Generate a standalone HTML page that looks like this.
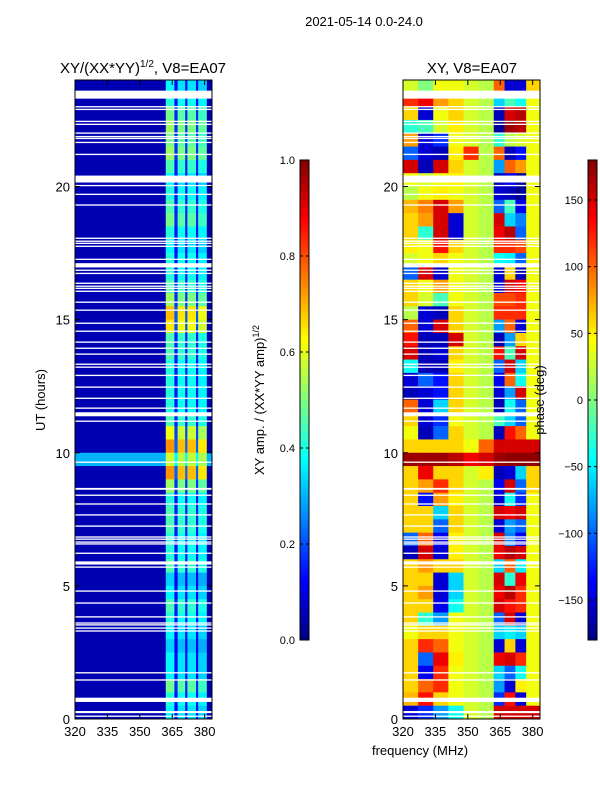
<!DOCTYPE html>
<html><head><meta charset="utf-8">
<style>
body{margin:0;background:#fff;}
svg{display:block;font-family:"Liberation Sans","DejaVu Sans",sans-serif;}
</style></head>
<body>
<svg id="fig" width="600" height="800" viewBox="0 0 600 800" xmlns="http://www.w3.org/2000/svg">
<rect width="600" height="800" fill="#fff"/>
<text x="364" y="26" font-size="13" text-anchor="middle">2021-05-14 0.0-24.0</text>
<text x="143" y="73" font-size="15" text-anchor="middle">XY/(XX*YY)<tspan font-size="10" dy="-6">1/2</tspan><tspan dy="6">, V8=EA07</tspan></text>
<text x="472" y="73" font-size="15" text-anchor="middle">XY, V8=EA07</text>
<text transform="translate(45,400) rotate(-90)" font-size="13" text-anchor="middle">UT (hours)</text>
<text x="420" y="755" font-size="13" text-anchor="middle">frequency (MHz)</text>
<text transform="translate(264,400) rotate(-90)" font-size="13" text-anchor="middle">XY amp. / (XX*YY amp)<tspan font-size="9" dy="-5">1/2</tspan></text>
<g id="leftPlot"></g>
<g id="rightPlot"></g>
<g id="cb1"></g>
<g id="cb2"></g>
<text transform="translate(544,400) rotate(-90)" font-size="13" text-anchor="middle">phase (deg)</text>
</svg>
<script>
// ---- data ----
const hourTicks = [0, 5, 10, 15, 20];
const freqTicks = [320, 335, 350, 365, 380];
const ampTicks = [0.0, 0.2, 0.4, 0.6, 0.8, 1.0];
const phaseTicks = [-150, -100, -50, 0, 50, 100, 150];
const ampBins = [320, 362, 366, 367.5, 371, 372, 376, 377, 381, 383.4];
const ampBinWeight = [0, 0.8, 0.2, 0.75, 0.2, 0.75, 0.2, 0.7, 0];
const ampPeak = [0.4,0.45,0.55,0.6,0.55,0.6,0.5,0.4,0.45,0.5,0.55,0.45,0.4,0.45,0.45,0.5,0.6,0.8,0.75,0.5,0.5,0.45,0.45,0.45,0.45,0.5,0.7,0.85,0.35,0.85,0.6,0.45,0.5,0.5,0.45,0.45,0.5,0.35,0.4,0.5,0.45,0.4,0.35,0.4,0.4,0.55,0.45,0.4];
const ampBase = [0.05,0.05,0.05,0.05,0.05,0.05,0.05,0.05,0.05,0.05,0.05,0.05,0.05,0.05,0.05,0.05,0.05,0.05,0.05,0.05,0.05,0.05,0.05,0.05,0.05,0.05,0.05,0.05,0.3,0.05,0.05,0.05,0.05,0.05,0.05,0.05,0.05,0.05,0.05,0.05,0.05,0.05,0.05,0.05,0.05,0.05,0.05,0.05];
const phaseBins = [320, 327, 334, 341, 348, 355, 362, 367, 372, 377, 383.4];
const phaseRows = [
[30,0,40,40,30,20,100,-150,-150,60],[120,140,80,60,30,20,-60,-20,-40,40],
[60,-150,40,60,30,20,-160,150,160,40],[-30,-20,30,50,30,20,-170,170,160,40],
[80,-150,-120,40,30,20,-30,20,30,40],[-100,-150,-160,50,120,20,100,-160,-130,40],
[150,-160,150,60,30,20,-80,100,80,40],[40,30,40,50,30,20,-160,-140,-170,40],
[20,40,50,40,30,20,-150,-160,-170,40],[70,90,150,80,30,20,-100,-20,-140,40],
[60,80,150,-150,30,20,150,-60,-90,40],[60,-30,150,-150,30,20,140,160,-100,40],
[50,40,130,60,30,20,120,120,110,40],[30,40,60,40,30,20,-40,-50,-100,40],
[-100,150,-150,40,30,20,-150,60,-160,40],[60,40,80,40,30,20,-150,150,140,40],
[60,30,-20,40,30,20,110,110,120,40],[20,-150,-160,60,30,20,120,120,120,40],
[100,-150,150,60,30,20,-80,100,-150,40],[130,-160,-160,150,30,20,-160,-80,60,40],
[150,-160,-150,60,30,20,130,-20,150,40],[-40,-160,-160,50,30,20,-100,150,-60,40],
[-150,-100,-130,60,30,20,-140,100,-40,40],[-160,-150,-130,60,30,20,-150,-80,150,40],
[100,-150,-60,60,30,20,-160,-40,-100,40],[60,-150,-120,40,30,20,-20,-60,-100,40],
[40,-160,-100,60,30,20,-160,130,100,40],[60,60,60,60,40,100,150,150,150,150],
[170,170,170,160,140,150,170,175,175,175],[60,140,60,60,30,50,-160,-150,-60,60],
[60,80,120,60,30,20,-140,150,-100,60],[60,-130,80,50,30,20,-150,-40,-120,40],
[60,60,-60,60,30,20,150,140,150,40],[60,60,-100,60,30,20,-150,-80,-100,40],
[-100,100,-140,50,30,20,150,-90,-140,40],[-160,150,-150,50,30,20,140,160,150,40],
[60,80,60,60,30,20,-60,100,-50,40],[60,60,-150,-60,30,20,150,-30,140,40],
[60,80,-150,-60,30,20,140,160,120,40],[60,60,-140,-40,30,20,150,130,120,40],
[60,-30,-80,40,30,20,-100,150,-150,40],[40,60,60,40,30,20,-60,-50,-60,40],
[60,120,100,40,30,20,-150,60,-150,40],[60,-100,140,50,30,20,140,150,120,40],
[60,-140,120,40,30,20,-60,-100,-40,40],[60,100,120,40,30,20,-80,-150,50,40],
[70,130,60,40,30,20,-120,130,-150,40],[-150,-120,-80,-40,30,20,150,150,150,150]
];
const gapStart = [23.3,22.97,22.87,22.42,22.31,21.98,21.85,21.78,21.63,21.18,20.15,20.01,19.68,19.28,18.03,17.92,17.84,17.73,17.24,16.96,16.83,16.71,16.34,16.23,16.15,16.04,15.63,15.33,14.84,14.54,14.13,13.9,13.68,13.3,13.19,12.88,12.44,12.02,11.65,11.37,11.16,9.62,8.61,8.38,8.05,7.64,7.22,6.81,6.73,6.62,6.55,6.2,5.8,5.68,4.78,4.33,3.81,3.58,3.51,3.39,3.28,1.71,1.44,0.64,0.22,0.08];
const gapEnd   = [23.6,23.02,22.92,22.47,22.36,22.03,21.9,21.83,21.68,21.23,20.41,20.06,19.73,19.33,18.08,17.97,17.89,17.78,17.29,17.12,16.88,16.76,16.39,16.28,16.2,16.09,15.68,15.38,14.89,14.59,14.18,13.95,13.73,13.35,13.24,12.93,12.49,12.07,11.7,11.52,11.21,9.67,8.68,8.43,8.1,7.69,7.27,6.86,6.78,6.67,6.6,6.25,5.92,5.73,4.83,4.38,3.86,3.63,3.56,3.44,3.33,1.76,1.49,0.8,0.3,0.13];

const NS = "http://www.w3.org/2000/svg";
function jet(v){
  v = Math.max(0, Math.min(1, v));
  const r = Math.max(0, Math.min(1, 1.5 - Math.abs(4*v - 3)));
  const g = Math.max(0, Math.min(1, 1.5 - Math.abs(4*v - 2)));
  const b = Math.max(0, Math.min(1, 1.5 - Math.abs(4*v - 1)));
  return `rgb(${Math.round(r*255)},${Math.round(g*255)},${Math.round(b*255)})`;
}
function mk(tag, attrs, parent){
  const e = document.createElementNS(NS, tag);
  for (const k in attrs) e.setAttribute(k, attrs[k]);
  parent.appendChild(e);
  return e;
}
const PT = 80, PB = 719, HMAX = 24;
const yH = h => PB - (h / HMAX) * (PB - PT);
function xF(x0, x1){ return f => x0 + (f - 320) / (383.4 - 320) * (x1 - x0); }

function drawPanel(g, x0, x1, bins, cellVal){
  const xf = xF(x0, x1);
  for (let r = 0; r < 48; r++){
    const hTop = 24 - r*0.5, hBot = hTop - 0.5;
    for (let c = 0; c < bins.length - 1; c++){
      const rc = mk('rect', {x: xf(bins[c]), y: yH(hTop), width: xf(bins[c+1]) - xf(bins[c]) + 0.3, height: yH(hBot) - yH(hTop) + 0.3, fill: jet(cellVal(r, c))}, g);
      
      
    }
  }
  for (let i = 0; i < gapStart.length; i++){
    const gr = mk('rect', {x: x0, y: yH(gapEnd[i]), width: x1 - x0, height: Math.max(1.2, yH(gapStart[i]) - yH(gapEnd[i])), fill: '#fff'}, g);
    
    
  }
  const fr = mk('rect', {x: x0, y: PT, width: x1 - x0, height: PB - PT, fill: 'none', stroke: '#000', 'stroke-width': 1}, g);
  
  
  hourTicks.forEach(h => {
    const y = yH(h);
    mk('line', {x1: x0, x2: x0 + 5, y1: y, y2: y, stroke: '#000'}, g);
    mk('line', {x1: x1, x2: x1 - 5, y1: y, y2: y, stroke: '#000'}, g);
    const t = mk('text', {x: x0 - 5, y: y + 5, 'font-size': 13, 'text-anchor': 'end'}, g);
    t.textContent = h;
    
    
  });
  freqTicks.forEach(f => {
    const x = xf(f);
    mk('line', {x1: x, x2: x, y1: PB, y2: PB - 5, stroke: '#000'}, g);
    mk('line', {x1: x, x2: x, y1: PT, y2: PT + 5, stroke: '#000'}, g);
    const t = mk('text', {x: x, y: PB + 17, 'font-size': 13, 'text-anchor': 'middle'}, g);
    t.textContent = f;
    
    
  });
}
drawPanel(document.getElementById('leftPlot'), 75, 212, ampBins,
  (r, c) => ampBase[r] + ampBinWeight[c] * ampPeak[r]);
drawPanel(document.getElementById('rightPlot'), 403, 540, phaseBins,
  (r, c) => (phaseRows[r][c] + 180) / 360);

function drawColorbar(g, x0, vmin, vmax, ticks, fmt){
  const top = 160, bot = 640, w = 9, n = 120;
  for (let i = 0; i < n; i++){
    const v = i / n;
    const s = mk('rect', {x: x0, y: bot - (i+1)*(bot-top)/n, width: w, height: (bot-top)/n + 0.5, fill: jet(v + 0.5/n)}, g);
    
    
  }
  mk('rect', {x: x0, y: top, width: w, height: bot - top, fill: 'none', stroke: '#000'}, g);
  ticks.forEach(t => {
    const y = bot - (t - vmin) / (vmax - vmin) * (bot - top);
    mk('line', {x1: x0, x2: x0 + 3, y1: y, y2: y, stroke: '#000'}, g);
    mk('line', {x1: x0 + w, x2: x0 + w - 3, y1: y, y2: y, stroke: '#000'}, g);
    const tx = mk('text', {x: x0 - 5, y: y + 4, 'font-size': 11, 'text-anchor': 'end'}, g);
    tx.textContent = fmt(t);
    
    
  });
}
drawColorbar(document.getElementById('cb1'), 300, 0, 1, ampTicks, t => t.toFixed(1));
drawColorbar(document.getElementById('cb2'), 588, -180, 180, phaseTicks, t => (t < 0 ? '\u2212' + (-t) : '' + t));
</script>
</body></html>
